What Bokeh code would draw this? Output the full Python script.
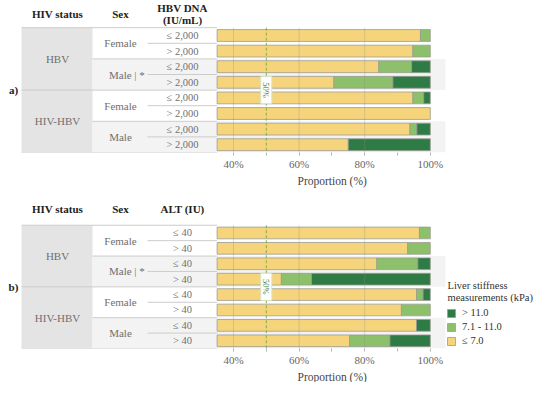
import numpy as np
from bokeh.plotting import figure
from bokeh.models import (Range1d, FixedTicker, ColumnDataSource, Legend, LegendItem,
                          PrintfTickFormatter, Title)
from bokeh.layouts import column
from bokeh.embed import file_html
from bokeh.resources import INLINE
from bokeh.core.properties import value

# ---------------- data ----------------
hiv_groups = ["HBV", "HIV-HBV"]
sex_labels = ["Female", "Male | *", "Female", "Male"]
dna_labels = ["≤ 2,000", "> 2,000", "≤ 2,000", "> 2,000",
              "≤ 2,000", "> 2,000", "≤ 2,000", "> 2,000"]
alt_labels = ["≤ 40", "> 40", "≤ 40", "> 40", "≤ 40", "> 40", "≤ 40", "> 40"]
series_names = ["≤ 7.0", "7.1 - 11.0", "> 11.0"]

# panel a) HBV DNA  (% of patients, per row, top to bottom)
a_low = [97.0, 94.7, 84.3, 70.6, 94.7, 100.0, 93.8, 75.0]
a_mid = [3.0, 5.3, 10.0, 18.0, 3.3, 0.0, 2.1, 0.0]
a_high = [0.0, 0.0, 5.7, 11.4, 2.0, 0.0, 4.1, 25.0]
# panel b) ALT
b_low = [96.7, 93.1, 83.7, 54.6, 95.8, 91.2, 95.8, 75.4]
b_mid = [3.3, 6.9, 12.5, 9.2, 2.0, 8.8, 0.0, 12.3]
b_high = [0.0, 0.0, 3.8, 36.2, 2.2, 0.0, 4.2, 12.3]

x_ticks = [40, 60, 80, 100]
x_minor = [50, 70, 90]
ref_line = 50

# ---------------- style / layout ----------------
FONT = value("Liberation Serif")
C_LOW, C_MID, C_HIGH = "#F5D47B", "#8DC06A", "#2E7B45"
AX_MIN = 35.0
PX_PER_PCT = 3.28
X_AT_AXMIN = 216.6   # screen x of AX_MIN
W = 534
ROW_H = 15.6


def px(sx):
    """layout helper: screen x -> percent units"""
    return AX_MIN + (sx - X_AT_AXMIN) / PX_PER_PCT


X0, X1 = px(0), px(W)
XL, XC1, XSUB, XBAR, XBAND = px(21), px(92), px(147), AX_MIN, px(445)


def make_panel(tag, headers, sub_labels, low, mid, high, frame_top, frame_h,
               bottom_border, legend=False):
    table_top = frame_top + frame_h - 8 * ROW_H

    def ry(sy):
        return (sy - table_top) / ROW_H - 0.5
    y_end = ry(frame_top)
    y_start = ry(frame_top + frame_h)
    p = figure(width=W, height=frame_h + bottom_border, output_backend="svg",
               toolbar_location=None, x_range=Range1d(X0, X1),
               y_range=Range1d(y_start, y_end), y_axis_location=None,
               min_border_left=0, min_border_right=0, min_border_top=0,
               min_border_bottom=bottom_border, outline_line_color=None)
    p.xgrid.visible = False
    p.ygrid.visible = False

    # table backgrounds
    p.quad(left=[XL], right=[XC1], top=[-0.5], bottom=[7.5],
           fill_color="#e4e4e4", line_color=None)
    p.quad(left=[XC1, XC1], right=[XBAND, XBAND], top=[1.5, 5.5], bottom=[3.5, 7.5],
           fill_color="#f3f3f3", line_color=None)
    # table rules
    x0s = [XL, XL, XL, XC1, XC1, XSUB, XSUB, XSUB, XSUB]
    ys = [-0.5, 3.5, 7.5, 1.5, 5.5, 0.5, 2.5, 4.5, 6.5]
    p.segment(x0=x0s, y0=ys, x1=[XBAR] * len(ys), y1=ys,
              line_color="#cccccc", line_width=1)

    rows = np.arange(8)
    # bars (stacked, clipped at axis start)
    vals = np.array([low, mid, high], dtype=float)
    cum = np.cumsum(vals, axis=0)
    starts = cum - vals
    rends = []
    for k, col in enumerate([C_LOW, C_MID, C_HIGH]):
        l = np.maximum(starts[k], AX_MIN)
        r = np.maximum(cum[k], AX_MIN)
        m = (r - l) > 0
        src = ColumnDataSource(dict(y=rows[m], left=l[m], right=r[m]))
        rr = p.hbar(y="y", left="left", right="right", height=0.76, source=src,
                    fill_color=col, line_color="#9c9c94", line_width=0.8)
        rends.append(rr)

    # faint guides at ticks
    gx = [t for t in x_ticks if t < 100]
    p.segment(x0=gx, y0=[-0.5] * len(gx), x1=gx, y1=[7.5] * len(gx),
              line_color="#8a8a8a", line_alpha=0.3, line_width=1)
    # 50% reference line
    p.segment(x0=[ref_line], y0=[-0.5], x1=[ref_line], y1=[7.5],
              line_color="#86ad45", line_width=1, line_dash="3 2")
    p.rect(x=[ref_line], y=[3.5], width=11, height=27, width_units="screen",
           height_units="screen", fill_color="white", line_color="#d8e6cc")
    p.text(x=[ref_line], y=[3.5], text=["50%"], angle=-np.pi / 2,
           text_font=FONT, text_font_size="8.5px", text_color="#3d7d3d",
           text_align="center", text_baseline="middle")

    # table texts
    p.text(x=[px(57)] * 2, y=[1.5, 5.5], text=hiv_groups, text_font=FONT,
           text_font_size="11px", text_color="#6f6f6f", text_align="center",
           text_baseline="middle")
    p.text(x=[px(120), px(120)], y=[0.5, 4.5], text=[sex_labels[0], sex_labels[2]],
           text_font=FONT, text_font_size="11px", text_color="#6f6f6f",
           text_align="center", text_baseline="middle")
    p.text(x=[px(108.5)], y=[2.5], text=[sex_labels[1]], text_font=FONT,
           text_font_size="11px", text_color="#6f6f6f", text_align="left",
           text_baseline="middle")
    p.text(x=[px(120)], y=[6.5], text=[sex_labels[3]], text_font=FONT,
           text_font_size="11px", text_color="#6f6f6f", text_align="center",
           text_baseline="middle")
    p.text(x=[px(182)] * 8, y=rows, text=sub_labels, text_font=FONT,
           text_font_size="10.5px", text_color="#6f6f6f", text_align="center",
           text_baseline="middle")

    # headers (offsets relative to the table top, in px)
    for (sx, dy, t) in headers:
        p.text(x=[px(sx)], y=[ry(table_top + dy)], text=[t], text_font=FONT,
               text_font_size="11px", text_font_style="bold", text_color="#222222",
               text_align="center", text_baseline="middle")
    p.text(x=[px(13)], y=[3.5], text=[tag], text_font=FONT, text_font_size="11px",
           text_font_style="bold", text_color="#222222", text_align="center",
           text_baseline="middle")

    # axis
    ax = p.xaxis[0]
    ax.ticker = FixedTicker(ticks=x_ticks, minor_ticks=x_minor)
    ax.formatter = PrintfTickFormatter(format="%d%%")
    ax.axis_line_color = None
    ax.major_tick_in = 0
    ax.major_tick_out = 3
    ax.minor_tick_in = 0
    ax.minor_tick_out = 3
    ax.major_tick_line_color = "#b5b5b5"
    ax.minor_tick_line_color = "#b5b5b5"
    ax.major_label_text_font = "Liberation Serif"
    ax.major_label_text_font_size = "11px"
    ax.major_label_text_color = "#666666"
    ax.major_label_standoff = 2
    # axis title, placed under the bar area
    p.add_layout(Title(text="Proportion (%)", align="left", offset=297,
                       text_font="Liberation Serif", text_font_size="11.5px",
                       text_font_style="normal", text_color="#444444",
                       standoff=0), "below")

    if legend:
        p.text(x=[px(447)] * 2, y=[ry(table_top + 61), ry(table_top + 73)],
               text=["Liver stiffness", "measurements (kPa)"], text_font=FONT,
               text_font_size="10.5px", text_color="#333333", text_align="left",
               text_baseline="middle")
        lg = Legend(items=[LegendItem(label=series_names[2], renderers=[rends[2]]),
                           LegendItem(label=series_names[1], renderers=[rends[1]]),
                           LegendItem(label=series_names[0], renderers=[rends[0]])],
                    location=(446, 2), orientation="vertical")
        lg.padding = 0
        lg.margin = 0
        lg.spacing = 3
        lg.glyph_width = 10
        lg.glyph_height = 10
        lg.label_height = 10
        lg.label_standoff = 6
        lg.label_text_font = "Liberation Serif"
        lg.label_text_font_size = "10.5px"
        lg.label_text_color = "#333333"
        lg.border_line_color = None
        lg.background_fill_alpha = 0
        p.add_layout(lg)
    return p


pa = make_panel("a)", [(57, -14, "HIV status"), (120, -14, "Sex"),
                       (182, -20, "HBV DNA"), (182, -8, "(IU/mL)")],
                dna_labels, a_low, a_mid, a_high,
                frame_top=0, frame_h=152, bottom_border=36)
pb = make_panel("b)", [(57, -16, "HIV status"), (120, -16, "Sex"),
                       (182, -16, "ALT (IU)")],
                alt_labels, b_low, b_mid, b_high,
                frame_top=188, frame_h=162, bottom_border=32, legend=True)

layout = column(pa, pb, spacing=0)
open("out.html", "w").write(file_html(layout, INLINE))
